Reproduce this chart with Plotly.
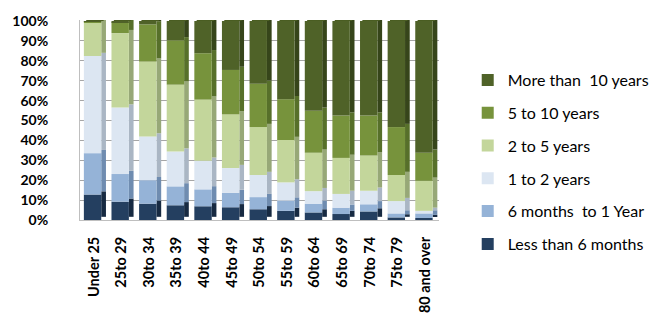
import plotly.graph_objects as go
import numpy as np

categories = ["Under 25", "25to 29", "30to 34", "35to 39", "40to 44", "45to 49", "50to 54",
              "55to 59", "60to 64", "65to 69", "70to 74", "75to 79", "80 and over"]

less_6m   = [12.8, 9.2, 8.2, 7.4, 6.9, 6.4, 5.4, 4.6, 3.8, 3.0, 4.3, 1.3, 1.0]
m6_to_1y  = [20.8, 13.9, 11.8, 9.5, 8.5, 7.2, 6.1, 5.2, 4.4, 3.2, 3.6, 2.0, 2.3]
y1_to_2   = [48.8, 33.4, 22.0, 17.5, 14.4, 12.5, 11.1, 9.1, 6.3, 6.9, 6.8, 6.2, 1.3]
y2_to_5   = [16.8, 37.4, 37.6, 33.6, 30.7, 27.0, 24.1, 21.3, 19.3, 18.1, 17.7, 13.1, 15.1]
y5_to_10  = [0.5, 5.5, 18.7, 22.3, 23.3, 22.3, 21.8, 20.5, 21.1, 21.3, 20.1, 24.1, 14.1]
more_10   = [0.3, 0.6, 1.7, 9.7, 16.2, 24.6, 31.5, 39.3, 45.1, 47.5, 47.5, 53.3, 66.2]

series_names = ["Less than 6 months", "6 months  to 1 Year", "1 to 2 years",
                "2 to 5 years", "5 to 10 years", "More than  10 years"]
series_vals = [less_6m, m6_to_1y, y1_to_2, y2_to_5, y5_to_10, more_10]
front_colors = ["#243F60", "#95B3D7", "#DCE6F2", "#C3D69B", "#77933C", "#4F6228"]
side_colors = ["#172a42", "#6f8cb0", "#aab6c4", "#97a877", "#57702a", "#36451a"]
top_colors = ["#2e4d74", "#a9c3e2", "#e6edf6", "#d0e0ae", "#86a448", "#4a5d22"]

fig = go.Figure()
x = list(range(len(categories)))
base = np.zeros(len(categories))
front_off, front_w = -0.36, 0.63
side_w = 0.17
lift = 1.6

n = len(series_names)
for i, (name, vals, fc, sc) in enumerate(zip(series_names, series_vals, front_colors, side_colors)):
    v = np.array(vals, dtype=float)
    # side face (pseudo 3D)
    fig.add_trace(go.Bar(x=x, y=v, base=base + lift, offset=front_off + front_w, width=side_w,
                         marker=dict(color=sc, line=dict(width=0)), showlegend=False,
                         hoverinfo="skip"))
    fig.add_trace(go.Bar(x=x, y=v, base=base, offset=front_off, width=front_w, name=name,
                         marker=dict(color=fc, line=dict(width=0)), legendgroup=name,
                         legendrank=n - i))
    base = base + v

# top face on the topmost segment
fig.add_trace(go.Bar(x=x, y=[lift] * len(x), base=base, offset=front_off + side_w * 0.5, width=front_w,
                     marker=dict(color=top_colors[-1], line=dict(width=0)), showlegend=False,
                     hoverinfo="skip"))

fig.update_layout(
    width=666, height=325,
    margin=dict(l=75, r=219, t=20, b=101),
    barmode="overlay",
    plot_bgcolor="white", paper_bgcolor="white",
    font=dict(family="Lato, Open Sans, sans-serif", color="black"),
    legend=dict(x=1.08, y=0.785, xanchor="left", yanchor="top",
                traceorder="grouped", tracegroupgap=9, itemwidth=30, maxheight=320,
                font=dict(size=16, family="Lato, sans-serif", color="black")),
    showlegend=True,
)
fig.update_xaxes(tickmode="array", tickvals=x, ticktext=categories, tickangle=-90,
                 range=[-0.5, 12.5], showgrid=False, ticks="", ticklabelstandoff=10,
                 tickfont=dict(size=14.5, family="Lato, sans-serif", color="black", weight="bold"),
                 showline=True, linecolor="#bfbfbf", linewidth=1)
fig.update_yaxes(range=[0, 100.5], tickvals=[0, 10, 20, 30, 40, 50, 60, 70, 80, 90, 100],
                 ticktext=[f"{v}%" for v in range(0, 101, 10)], showgrid=True,
                 gridcolor="#a6a6a6", gridwidth=1, ticks="", ticklabelstandoff=28,
                 tickfont=dict(size=14, family="Lato, sans-serif", color="black", weight="bold"),
                 showline=True, linecolor="#bfbfbf", linewidth=1, zeroline=False)

fig.write_html("out.html")
